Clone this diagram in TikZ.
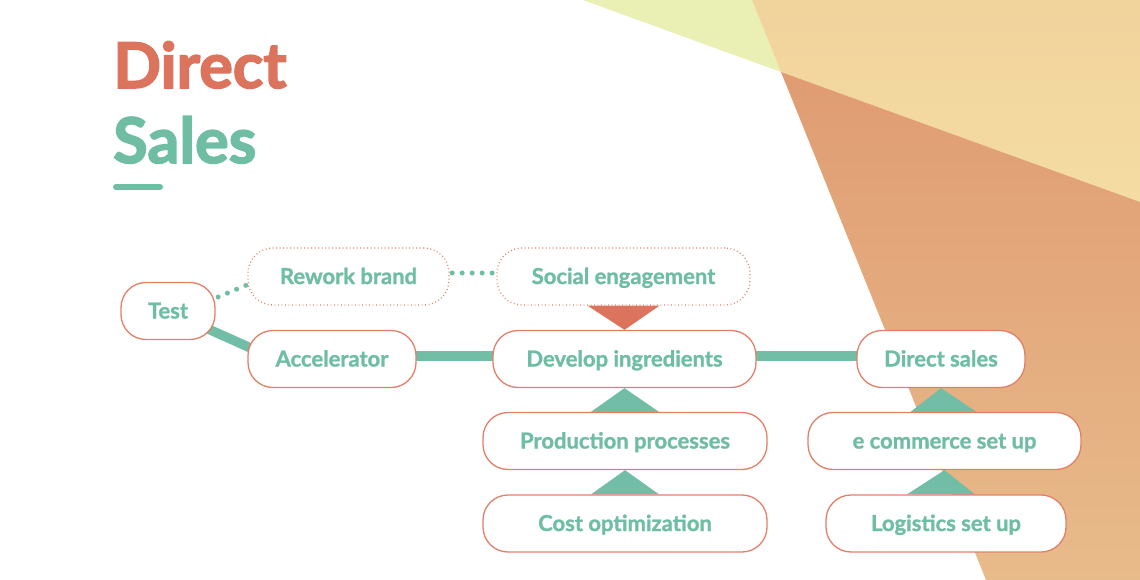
\documentclass[tikz,border=0pt]{standalone}
\usepackage{fontspec}
\setmainfont{Lato}
\newfontfamily\nodefont{Lato}[UprightFeatures={FakeBold=0}, BoldFeatures={FakeBold=1.2}]
\newfontfamily\titlefont{Lato}[BoldFeatures={FakeBold=2.4}]
\usetikzlibrary{calc}
\definecolor{teal1}{HTML}{6FBEA4}
\definecolor{tealbar}{HTML}{72BDA5}
\definecolor{redt}{HTML}{DC735C}
\definecolor{border}{HTML}{E27F68}
\definecolor{bggreen}{HTML}{EAF0B3}
\definecolor{bgover}{HTML}{F1D39C}
\definecolor{bgover2}{HTML}{F4DCA2}
\definecolor{bgor}{HTML}{E09C73}
\definecolor{bgor2}{HTML}{E8BB8A}
\pgfdeclarelayer{bg}
\pgfdeclarelayer{conn}
\pgfsetlayers{bg,conn,main}
\tikzset{
  stagebox/.style={draw=border, line width=1.3pt, rounded corners=25pt, fill=white,
    text=teal1, font=\nodefont\bfseries\fontsize{22}{26}\selectfont, minimum height=57pt, inner sep=0pt,
    text height=17pt, text depth=2pt},
  dotbox/.style={stagebox, dash pattern=on 0.9pt off 2.6pt},
  bar/.style={draw=tealbar, line width=9.5pt},
  dotline/.style={draw=teal1, line width=5pt, line cap=round, dash pattern=on 0pt off 10pt},
  tealtri/.style={fill=tealbar},
  redtri/.style={fill=redt},
  titletext/.style={font=\titlefont\bfseries\fontsize{63}{70}\selectfont, inner sep=0pt, anchor=base west}
}
\begin{document}
\begin{tikzpicture}[x=1pt,y=-1pt]
\useasboundingbox (0,0) rectangle (1140,580);
% title
\node[titletext, text=redt] (t1) at (113,88) {Direct};
\node[titletext, text=teal1] (t2) at (113,163) {Sales};
\coordinate (u1) at (116,187);
\coordinate (u2) at (160,187);
\draw[teal1, line width=6pt, line cap=round] (u1) -- (u2);
% nodes
\node[stagebox, minimum width=94pt] (test) at (168,311) {Test};
\node[dotbox, minimum width=201pt] (rework) at (348.5,276.5) {Rework brand};
\node[dotbox, minimum width=253pt] (soc) at (623.5,276.5) {Social engagement};
\node[stagebox, minimum width=168pt] (acc) at (332,359) {Accelerator};
\node[stagebox, minimum width=263pt] (dev) at (624.5,359) {Develop ingredients};
\node[stagebox, minimum width=168pt] (ds) at (941,359) {Direct sales};
\node[stagebox, minimum width=284pt] (prod) at (625,441) {Production processes};
\node[stagebox, minimum width=273pt] (ecom) at (944.5,441) {e commerce set up};
\node[stagebox, minimum width=284pt] (cost) at (625,523.5) {Cost optimization};
\node[stagebox, minimum width=240pt] (logi) at (946,523.5) {Logistics set up};
% background shapes
\begin{pgfonlayer}{bg}
\fill[white] (0,0) rectangle (1140,580);
\fill[bggreen] (583,0) -- (752,0) -- (781,72) -- cycle;
\shade[top color=bgover, bottom color=bgover2] (752,0) -- (1140,0) -- (1140,202) -- (781,72) -- cycle;
\shade[top color=bgor, bottom color=bgor2] (781,72) -- (1140,202) -- (1140,580) -- (986,580) -- cycle;
\end{pgfonlayer}
% connectors
\begin{pgfonlayer}{conn}
\draw[bar] (test.center) -- ($(acc.west)+(10,-8)$);
\draw[bar] ($(acc.center)+(0,-3)$) -- ($(dev.center)+(0,-3)$);
\draw[bar] ($(dev.center)+(0,-3)$) -- ($(ds.center)+(0,-3)$);
\fill[redtri] ($(soc.south)+(-36,0)$) -- ($(soc.south)+(36,0)$) -- (dev.north) -- cycle;
\fill[tealtri] ($(prod.north)+(-34,0)$) -- ($(prod.north)+(34,0)$) -- (dev.south) -- cycle;
\fill[tealtri] ($(cost.north)+(-34,0)$) -- ($(cost.north)+(34,0)$) -- (prod.south) -- cycle;
\fill[tealtri] ($(ecom.north)+(-34,0)$) -- ($(ecom.north)+(32,0)$) -- (ds.south) -- cycle;
\fill[tealtri] ($(logi.north)+(-39,0)$) -- ($(logi.north)+(29,0)$) -- (ecom.south) -- cycle;
\end{pgfonlayer}
\draw[dotline] ($(test.east)+(2.5,-14)$) -- ($(rework.west)+(0.5,8)$);
\draw[dotline] ($(rework.east)+(2.5,-3.5)$) -- ($(soc.west)+(-3,-3.5)$);
\end{tikzpicture}
\end{document}
